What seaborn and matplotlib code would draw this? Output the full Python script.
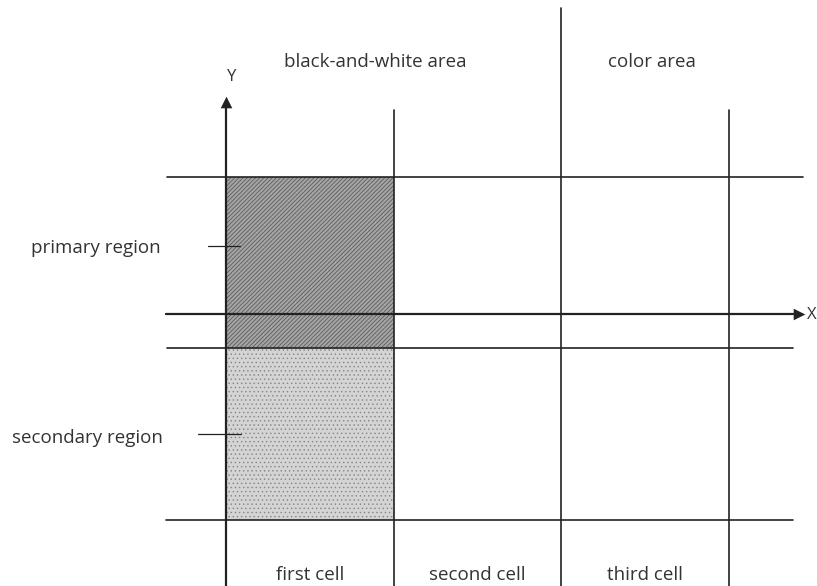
import numpy as np
import pandas as pd
import seaborn as sns
import matplotlib.pyplot as plt

# === Diagram content ===
cell_labels = ["first cell", "second cell", "third cell"]
cell_edges = [0, 1, 2, 3]              # x positions of the column rules
row_edges = [1.0, 0.0, -0.25, -1.5]     # y positions of the row rules
region_labels = ["primary region", "secondary region"]
region_centers = [0.5, -0.875]
area_labels = ["black-and-white area", "color area"]
area_centers = [0.89, 2.54]

sns.set_theme(style="white")
plt.rcParams["font.family"] = ["Open Sans", "DejaVu Sans"]
plt.rcParams["hatch.linewidth"] = 0.5

fig = plt.figure(figsize=(8.17, 5.86), dpi=100)
ax = fig.add_axes([0, 0, 1, 1])
ax.set_xlim(-1.35, 3.525)
ax.set_ylim(-1.985, 2.292)
ax.axis("off")

ink = "#222222"

# === Shaded cells
ax.add_patch(plt.Rectangle((cell_edges[0], row_edges[2]), 1, row_edges[0] - row_edges[2],
                           facecolor="#a4a4a4", edgecolor="#505050", hatch="////////", lw=0, zorder=1))
ax.add_patch(plt.Rectangle((cell_edges[0], row_edges[3]), 1, row_edges[2] - row_edges[3],
                           facecolor="#d4d4d4", edgecolor="#858585", hatch="....", lw=0, zorder=1))

# === Rules as line segments
segs = []
h_ext = {1.0: (-0.352, 3.44), 0.0: (-0.36, 3.40), -0.25: (-0.352, 3.38), -1.5: (-0.36, 3.38)}
for i, y in enumerate(row_edges):
    x0, x1 = h_ext[y]
    segs += [("h%d" % i, x0, y), ("h%d" % i, x1, y)]
v_top = {0: 1.52, 1: 1.49, 2: 2.23, 3: 1.49}
for i, x in enumerate(cell_edges):
    segs += [("v%d" % i, x, -1.99), ("v%d" % i, x, v_top[x])]
seg = pd.DataFrame(segs, columns=["seg", "x", "y"])
sns.lineplot(data=seg, x="x", y="y", units="seg", estimator=None, sort=False,
             color=ink, lw=1.2, ax=ax, zorder=3)

# thicker coordinate axes
ax.plot([-0.36, 3.40], [0, 0], color=ink, lw=1.6, zorder=4)
ax.plot([0, 0], [-1.99, 1.52], color=ink, lw=1.6, zorder=4)
ax.scatter([3.42], [0], marker=">", s=70, color=ink, lw=0, zorder=5)
ax.scatter([0], [1.55], marker="^", s=70, color=ink, lw=0, zorder=5)

# region ticks
ax.plot([-0.107, 0.083], [region_centers[0]] * 2, color=ink, lw=0.9, zorder=4)
ax.plot([-0.167, 0.09], [region_centers[1]] * 2, color=ink, lw=0.9, zorder=4)

# === Text
txt = dict(color="#333333", fontsize=13.5)
ax.text(0.03, 1.73, "Y", ha="center", va="center", fontsize=12, color="#333333")
ax.text(3.522, -0.01, "X", ha="right", va="center", fontsize=12, color="#333333")
for lab, cx in zip(area_labels, area_centers):
    ax.text(cx, 1.84, lab, ha="center", va="center", **txt)
ax.text(-0.394, 0.48, region_labels[0], ha="right", va="center", **txt)
ax.text(-0.376, -0.905, region_labels[1], ha="right", va="center", **txt)
for i, lab in enumerate(cell_labels):
    ax.text(cell_edges[i] + 0.5, -1.905, lab, ha="center", va="center", **txt)

fig.savefig("out.png", dpi=100, facecolor="white")
